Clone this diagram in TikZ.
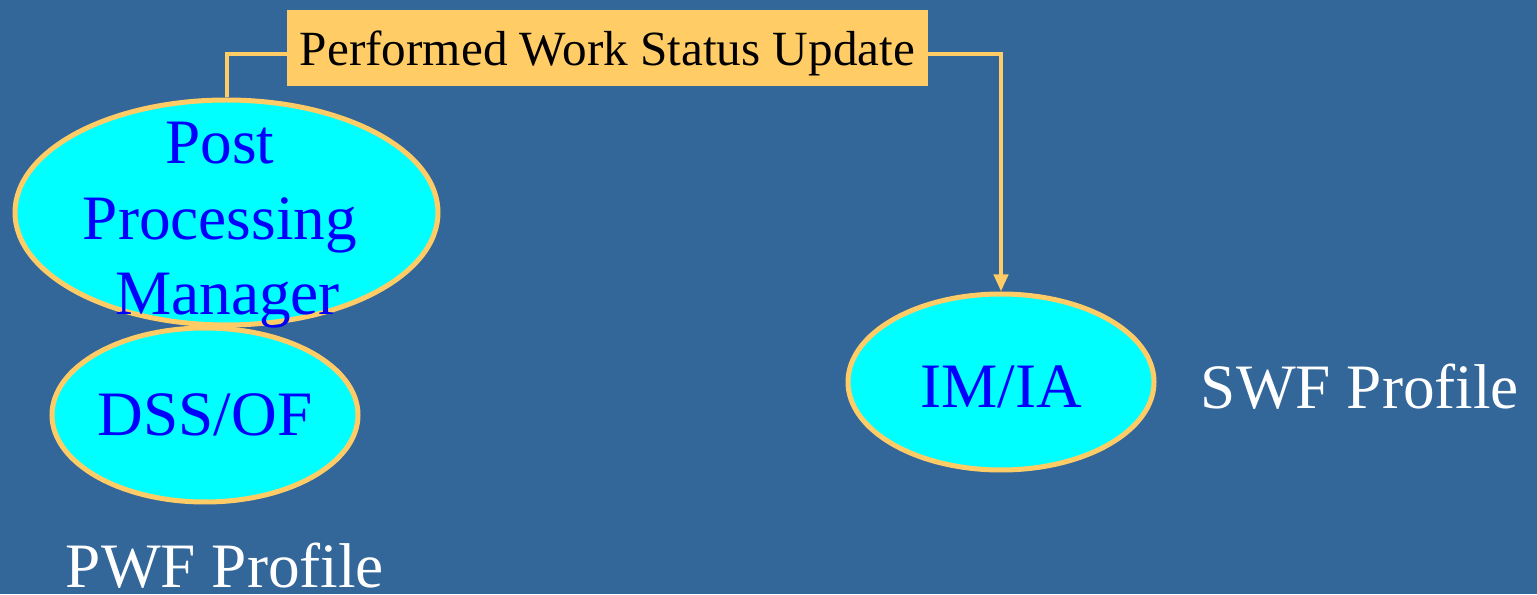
\documentclass[tikz,border=0pt]{standalone}
\usepackage{fontspec}
\setmainfont{Liberation Serif}
\usetikzlibrary{shapes.geometric,arrows.meta}

\definecolor{slideBlue}{HTML}{336699}
\definecolor{rimOrange}{HTML}{FFCC66}
\definecolor{textBlue}{HTML}{0000FF}
\definecolor{screenCyan}{HTML}{00FFFF}

\tikzset{
  actorEllipse/.style={ellipse, draw=rimOrange, line width=1mm, fill=screenCyan, inner sep=0mm},
  actorText/.style={text=textBlue, align=center, font=\fontsize{36}{43}\selectfont},
  profileText/.style={text=white, font=\fontsize{36}{43}\selectfont},
  msgLine/.style={draw=rimOrange, line width=0.8mm}
}

\begin{document}
\begin{tikzpicture}

\fill[slideBlue] (0mm,0mm) rectangle (307.4mm,118.8mm);

\node (statusBox) [rectangle, fill=rimOrange, inner sep=0mm, minimum width=128.2mm, minimum height=15.2mm] at (121.5mm,109.2mm) {};
\node (statusText) [font=\fontsize{28}{33}\selectfont] at (121.5mm,108.2mm) {Performed Work Status Update};

\node (dssEllipse) [actorEllipse, minimum width=61.2mm, minimum height=34.8mm] at (41mm,35.8mm) {};
\node (ppmEllipse) [actorEllipse, minimum width=84.6mm, minimum height=45mm] at (45.3mm,76.3mm) {};
\node (imiaEllipse) [actorEllipse, minimum width=61.2mm, minimum height=35.2mm] at (200.2mm,42.4mm) {};

\node (ppmText) [actorText] at (44mm,73.7mm) {Post\\Processing\\\hspace*{3mm}Manager};
\node (dssText) [actorText] at (dssEllipse.center) {DSS/OF};
\node (imiaText) [actorText] at ([yshift=-1mm]imiaEllipse.center) {IM/IA};

\node (swfLabel) [profileText] at (272mm,41.4mm) {SWF Profile};
\node (pwfLabel) [profileText] at (45mm,5.6mm) {PWF Profile};

% status update goes out from the post processing manager to the IM/IA
\draw[msgLine] ([yshift=-1.2mm]statusBox.west) -| (ppmEllipse.north);
\draw[msgLine, -{Triangle[length=3.4mm,width=2.8mm]}] ([yshift=-1.2mm]statusBox.east) -| (imiaEllipse.north);

\end{tikzpicture}
\end{document}
